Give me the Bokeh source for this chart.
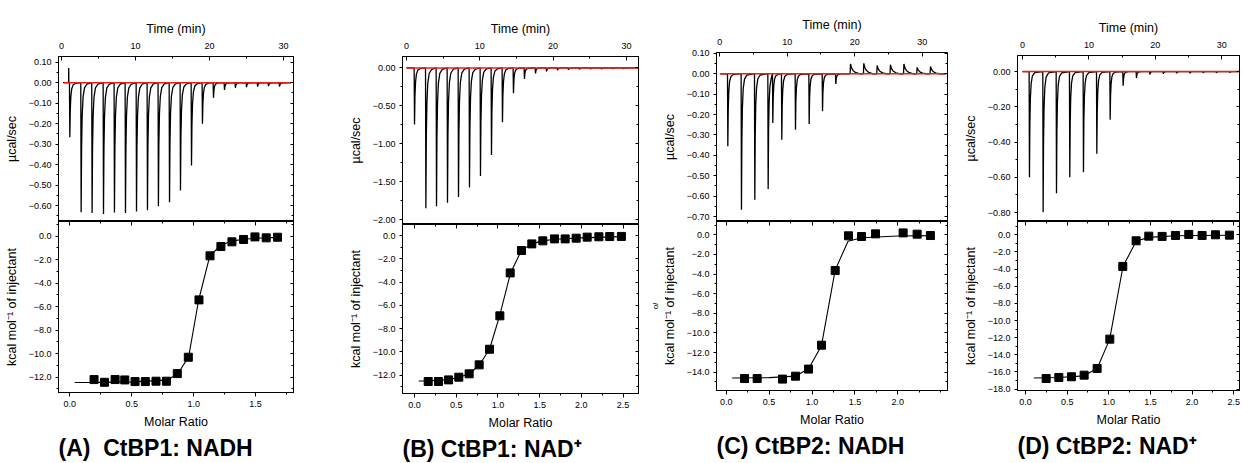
from bokeh.plotting import figure
from bokeh.layouts import row, column
from bokeh.models import Range1d, LinearAxis, FixedTicker, CustomJSTickFormatter, Title
from bokeh.embed import file_html
from bokeh.resources import INLINE

FONT = "Liberation Sans"

# ---------------- data ----------------
# Panel A: CtBP1 + NADH
A_inj_time = [1.13, 2.66, 4.14, 5.68, 7.16, 8.65, 10.14, 11.62, 13.10, 14.60,
              16.08, 17.57, 19.05, 20.54, 22.03, 23.50, 25.00, 26.50, 27.97, 29.46]
A_inj_peak = [-0.266, -0.633, -0.637, -0.641, -0.634, -0.636, -0.629, -0.623, -0.603, -0.584,
              -0.527, -0.405, -0.201, -0.074, -0.035, -0.025, -0.022, -0.019, -0.017, -0.019]
A_spike_time = [0.98]
A_spike_peak = [0.072]
A_ratio = [0.196, 0.280, 0.366, 0.444, 0.527, 0.610, 0.696, 0.780, 0.868, 0.957,
           1.043, 1.132, 1.220, 1.309, 1.403, 1.495, 1.586, 1.677]
A_heat = [-12.20, -12.43, -12.20, -12.23, -12.37, -12.37, -12.34, -12.34, -11.69, -10.30,
          -5.42, -1.67, -0.88, -0.48, -0.28, -0.06, -0.14, -0.09]
A_fit_x = [0.04, 0.20, 0.50, 0.78, 0.87, 0.96, 1.04, 1.13, 1.22, 1.31, 1.40, 1.50, 1.68]
A_fit_y = [-12.45, -12.44, -12.40, -12.25, -11.75, -10.25, -5.45, -1.70, -0.75, -0.42, -0.26, -0.17, -0.10]

# Panel B: CtBP1 + NAD+
B_inj_time = [1.09, 2.64, 4.09, 5.59, 7.09, 8.59, 10.09, 11.59, 13.09, 14.59,
              16.09, 17.60, 19.10, 20.60, 22.10, 23.60, 25.10, 26.60, 28.10, 29.60]
B_inj_peak = [-0.746, -1.851, -1.825, -1.778, -1.701, -1.578, -1.424, -1.147, -0.716, -0.333,
              -0.145, -0.072, -0.047, -0.030, -0.025, -0.020, -0.017, -0.015, -0.013, -0.012]
B_ratio = [0.164, 0.288, 0.408, 0.531, 0.655, 0.775, 0.899, 1.023, 1.147, 1.282,
           1.406, 1.538, 1.678, 1.806, 1.938, 2.070, 2.210, 2.340, 2.480]
B_heat = [-12.54, -12.54, -12.40, -12.17, -11.88, -11.11, -9.77, -6.90, -3.21, -1.29,
          -0.72, -0.46, -0.29, -0.29, -0.23, -0.14, -0.11, -0.09, -0.08]
B_fit_x = [0.05, 0.16, 0.41, 0.53, 0.66, 0.78, 0.90, 1.02, 1.15, 1.28, 1.41, 1.54, 1.68, 2.00, 2.48]
B_fit_y = [-12.50, -12.50, -12.38, -12.20, -11.85, -11.10, -9.75, -6.90, -3.25, -1.30,
           -0.70, -0.46, -0.32, -0.20, -0.10]

# Panel C: CtBP2 + NADH
C_inj_time = [1.19, 3.21, 5.19, 7.17, 7.86, 9.19, 11.22, 13.25, 15.23, 17.20]
C_inj_peak = [-0.355, -0.666, -0.618, -0.565, -0.241, -0.323, -0.274, -0.246, -0.184, -0.050]
C_bump_time = [19.38, 21.35, 23.33, 25.30, 27.30, 29.26, 31.24]
C_bump_peak = [0.048, 0.051, 0.040, 0.044, 0.048, 0.031, 0.035]
C_ratio = [0.214, 0.361, 0.656, 0.808, 0.959, 1.111, 1.270, 1.425, 1.577, 1.740, 2.062, 2.225, 2.380]
C_heat = [-14.65, -14.65, -14.71, -14.41, -13.69, -11.25, -3.64, -0.10, -0.17, 0.10, 0.20, 0.07, -0.07]
C_fit_x = [0.07, 0.50, 0.81, 0.96, 1.11, 1.27, 1.42, 1.58, 2.00, 2.40]
C_fit_y = [-14.60, -14.56, -14.40, -13.66, -11.30, -3.60, -0.65, -0.30, -0.12, -0.08]

# Panel D: CtBP2 + NAD+
D_inj_time = [1.05, 3.11, 5.12, 7.12, 9.18, 11.19, 13.20, 15.15, 17.16, 19.17,
              21.20, 23.20, 25.20, 27.20, 29.20, 31.20]
D_inj_peak = [-0.600, -0.798, -0.690, -0.600, -0.571, -0.467, -0.274, -0.081, -0.036, -0.017,
              -0.012, -0.010, -0.010, -0.008, -0.008, -0.006]
D_ratio = [0.248, 0.400, 0.552, 0.704, 0.860, 1.012, 1.168, 1.328, 1.480, 1.640,
           1.800, 1.960, 2.120, 2.280, 2.448]
D_heat = [-16.76, -16.64, -16.56, -16.37, -15.59, -12.17, -3.69, -0.70, -0.16, -0.19,
          -0.08, 0.04, -0.08, 0.00, -0.04]
D_fit_x = [0.10, 0.40, 0.70, 0.86, 1.01, 1.17, 1.33, 1.48, 1.80, 2.45]
D_fit_y = [-16.70, -16.65, -16.45, -15.60, -12.20, -3.70, -0.72, -0.30, -0.12, -0.06]

TIME_LABEL = "Time (min)"
POWER_LABEL = "µcal/sec"
HEAT_LABEL = "kcal mol⁻¹ of injectant"
RATIO_LABEL = "Molar Ratio"
PANEL_LABELS = ["(A)\u00a0 CtBP1: NADH", "(B) CtBP1: NAD⁺", "(C) CtBP2: NADH", "(D) CtBP2: NAD⁺"]
C_STRAY_TEXT = "ol"

# ---------------- peak shape (style only) ----------------
SHAPES = {
    "dip":   ([-0.05, 0.0, 0.06, 0.14, 0.26, 0.45, 0.80], [0.0, 1.0, 0.5, 0.25, 0.11, 0.04, 0.01]),
    "spike": ([-0.02, 0.0, 0.02], [0.0, 1.0, 0.0]),
    "bump":  ([-0.06, 0.0, 0.15, 0.40, 0.80, 1.30], [0.0, 1.0, 0.6, 0.3, 0.1, 0.0]),
}


def build_trace(t0, t1, events):
    events = sorted(events)
    xs, ys = [t0], [0.0]
    for i, (t, v, kind) in enumerate(events):
        nxt = events[i + 1][0] + SHAPES[events[i + 1][2]][0][0] if i + 1 < len(events) else t1
        offs, fr = SHAPES[kind]
        for o, f in zip(offs, fr):
            x = t + o
            if x < nxt and x > xs[-1]:
                xs.append(x)
                ys.append(v * f)
    xs.append(t1)
    ys.append(0.0)
    return xs, ys


def fmt(d):
    return CustomJSTickFormatter(args=dict(d=d), code="""
        const v = Math.abs(tick) < 1e-9 ? 0 : tick;
        const s = Math.abs(v).toFixed(d);
        return (v < 0 ? '\u2212' : '') + s;
    """)


def blank():
    return CustomJSTickFormatter(code="return '';")


def style_axis(ax, tin, tout, mtin, mtout, fs="9px"):
    ax.major_tick_in = tin
    ax.major_tick_out = tout
    ax.minor_tick_in = mtin
    ax.minor_tick_out = mtout
    ax.axis_line_color = "black"
    ax.major_tick_line_color = "black"
    ax.minor_tick_line_color = "black"
    ax.major_label_text_font = FONT
    ax.major_label_text_font_size = fs
    ax.major_label_text_color = "black"
    ax.axis_label_text_font = FONT
    ax.axis_label_text_font_size = "12.5px"
    ax.axis_label_text_font_style = "normal"
    ax.axis_label_text_color = "black"


def ticks(lo, hi, step):
    n = int(round((hi - lo) / step))
    return [round(lo + i * step, 6) for i in range(n + 1)]


def base_fig(fw, fh, bl, br, bt, bb, xr, yr, xloc):
    p = figure(frame_width=fw, frame_height=fh, min_border_left=bl, min_border_right=br,
               min_border_top=bt, min_border_bottom=bb, x_range=Range1d(*xr), y_range=Range1d(*yr),
               x_axis_location=xloc, output_backend="svg", toolbar_location=None, tools="")
    p.xgrid.visible = False
    p.ygrid.visible = False
    p.outline_line_color = "black"
    p.outline_line_alpha = 1.0
    p.outline_line_width = 1
    p.background_fill_color = "white"
    p.border_fill_color = "white"
    return p


def top_fig(cfg, events, t_span, red_span):
    p = base_fig(cfg["fw"], cfg["fh_top"], cfg["bl"], cfg["br"], cfg["bt"], 0,
                 cfg["xr_top"], cfg["yr_top"], "above")
    xt = FixedTicker(ticks=[0, 10, 20, 30], minor_ticks=[5, 15, 25])
    yt = FixedTicker(ticks=cfg["ymaj_top"], minor_ticks=cfg["ymin_top"])
    ax = p.xaxis[0]
    ax.ticker = xt
    ax.axis_label = TIME_LABEL
    ax.formatter = fmt(0)
    style_axis(ax, 4, 0, 2, 0)
    ax.major_label_standoff = 8
    ax.axis_label_standoff = 4
    ay = p.yaxis[0]
    ay.ticker = yt
    ay.formatter = fmt(2)
    ay.axis_label = POWER_LABEL
    style_axis(ay, 0, 3, 0, 2)
    ay.major_label_standoff = 4
    ay.axis_label_standoff = 7
    r = LinearAxis(ticker=yt, formatter=blank())
    style_axis(r, 3, 0, 2, 0, fs="0px")
    r.major_label_standoff = 0
    p.add_layout(r, "right")
    xs, ys = build_trace(t_span[0], t_span[1], events)
    p.line(xs, ys, line_color="black", line_width=1.3)
    p.line(list(red_span), [0.0, 0.0], line_color="#e8211d", line_width=1.5)
    return p


def bottom_fig(cfg, ratio, heat, fx, fy, label):
    p = base_fig(cfg["fw"], cfg["fh_bot"], cfg["bl"], cfg["br"], 0, 5,
                 cfg["xr_bot"], cfg["yr_bot"], "below")
    xt = FixedTicker(ticks=cfg["xmaj_bot"], minor_ticks=cfg["xmin_bot"])
    yt = FixedTicker(ticks=cfg["ymaj_bot"], minor_ticks=cfg["ymin_bot"])
    ax = p.xaxis[0]
    ax.ticker = xt
    ax.formatter = fmt(1)
    ax.axis_label = RATIO_LABEL
    style_axis(ax, 0, 4, 0, 2)
    ax.major_label_standoff = 4
    ax.axis_label_standoff = 5
    top = LinearAxis(ticker=xt, formatter=blank())
    style_axis(top, 4, 0, 2, 0, fs="0px")
    top.major_label_standoff = 0
    p.add_layout(top, "above")
    ay = p.yaxis[0]
    ay.ticker = yt
    ay.formatter = fmt(1)
    ay.axis_label = HEAT_LABEL
    style_axis(ay, 0, 3, 0, 2)
    ay.major_label_standoff = 4
    ay.axis_label_standoff = 7
    r = LinearAxis(ticker=yt, formatter=blank())
    style_axis(r, 3, 0, 2, 0, fs="0px")
    r.major_label_standoff = 0
    p.add_layout(r, "right")
    p.line(fx, fy, line_color="black", line_width=1.1)
    p.scatter(ratio, heat, marker="square", size=8, fill_color="black", line_color="black")
    p.add_layout(Title(text=label, align="left", text_font=FONT, text_font_size="23px",
                       text_font_style="bold", text_color="black", standoff=3), "below")
    return p


cfgA = dict(fw=235, bl=58, br=27, bt=56, fh_top=165, fh_bot=171,
            xr_top=(-0.40, 31.35), yr_top=(-0.678, 0.128),
            ymaj_top=ticks(-0.6, 0.1, 0.1), ymin_top=ticks(-0.65, 0.1, 0.05),
            xr_bot=(-0.091, 1.806), yr_bot=(-13.30, 1.25),
            xmaj_bot=ticks(0, 1.5, 0.5), xmin_bot=ticks(0, 1.75, 0.25),
            ymaj_bot=ticks(-12, 0, 2), ymin_bot=ticks(-13, 1, 1))
cfgB = dict(fw=236, bl=82, br=1, bt=56, fh_top=168, fh_bot=169,
            xr_top=(-0.55, 31.65), yr_top=(-2.065, 0.15),
            ymaj_top=ticks(-2.0, 0.0, 0.5), ymin_top=ticks(-2.0, 0.0, 0.25),
            xr_bot=(-0.144, 2.685), yr_bot=(-13.57, 0.945),
            xmaj_bot=ticks(0, 2.5, 0.5), xmin_bot=ticks(0, 2.5, 0.25),
            ymaj_bot=ticks(-12, 0, 2), ymin_bot=ticks(-13, 0, 1))
cfgC = dict(fw=231, bl=77, br=12, bt=52, fh_top=169, fh_bot=169,
            xr_top=(-0.49, 33.76), yr_top=(-0.724, 0.104),
            ymaj_top=ticks(-0.7, 0.1, 0.1), ymin_top=ticks(-0.7, 0.1, 0.05),
            xr_bot=(-0.113, 2.579), yr_bot=(-15.87, 1.36),
            xmaj_bot=ticks(0, 2.0, 0.5), xmin_bot=ticks(0, 2.5, 0.25),
            ymaj_bot=ticks(-14, 0, 2), ymin_bot=ticks(-15, 1, 1))
cfgD = dict(fw=222, bl=58, br=2, bt=55, fh_top=166, fh_bot=169,
            xr_top=(-0.75, 32.67), yr_top=(-0.851, 0.091),
            ymaj_top=ticks(-0.8, 0.0, 0.2), ymin_top=ticks(-0.8, 0.0, 0.1),
            xr_bot=(-0.096, 2.569), yr_bot=(-18.16, 1.55),
            xmaj_bot=ticks(0, 2.5, 0.5), xmin_bot=ticks(0, 2.5, 0.25),
            ymaj_bot=ticks(-18, 0, 2), ymin_bot=ticks(-18, 1, 1))

evA = [(t, v, "dip") for t, v in zip(A_inj_time, A_inj_peak)] + \
      [(t, v, "spike") for t, v in zip(A_spike_time, A_spike_peak)]
evB = [(t, v, "dip") for t, v in zip(B_inj_time, B_inj_peak)]
evC = [(t, v, "dip") for t, v in zip(C_inj_time, C_inj_peak)] + \
      [(t, v, "bump") for t, v in zip(C_bump_time, C_bump_peak)]
evD = [(t, v, "dip") for t, v in zip(D_inj_time, D_inj_peak)]

colA = column(top_fig(cfgA, evA, (0.2, 31.0), (0.3, 31.0)),
              bottom_fig(cfgA, A_ratio, A_heat, A_fit_x, A_fit_y, PANEL_LABELS[0]))
colB = column(top_fig(cfgB, evB, (0.0, 31.6), (0.0, 31.6)),
              bottom_fig(cfgB, B_ratio, B_heat, B_fit_x, B_fit_y, PANEL_LABELS[1]))

botC = bottom_fig(cfgC, C_ratio, C_heat, C_fit_x, C_fit_y, PANEL_LABELS[2])
stray = LinearAxis(ticker=FixedTicker(ticks=[]), formatter=blank(), axis_label=C_STRAY_TEXT)
stray.axis_line_color = None
stray.major_tick_line_color = None
stray.minor_tick_line_color = None
stray.major_label_text_font_size = "0px"
stray.major_label_standoff = 0
stray.axis_label_standoff = 0
stray.axis_label_text_font = FONT
stray.axis_label_text_font_size = "8px"
stray.axis_label_text_color = "black"
botC.add_layout(stray, "left")
colC = column(top_fig(cfgC, evC, (0.1, 33.5), (0.0, 33.6)), botC)

colD = column(top_fig(cfgD, evD, (0.0, 32.6), (0.0, 32.6)),
              bottom_fig(cfgD, D_ratio, D_heat, D_fit_x, D_fit_y, PANEL_LABELS[3]))

p = row(colA, colB, colC, colD)
open("out.html", "w").write(file_html(p, INLINE))
